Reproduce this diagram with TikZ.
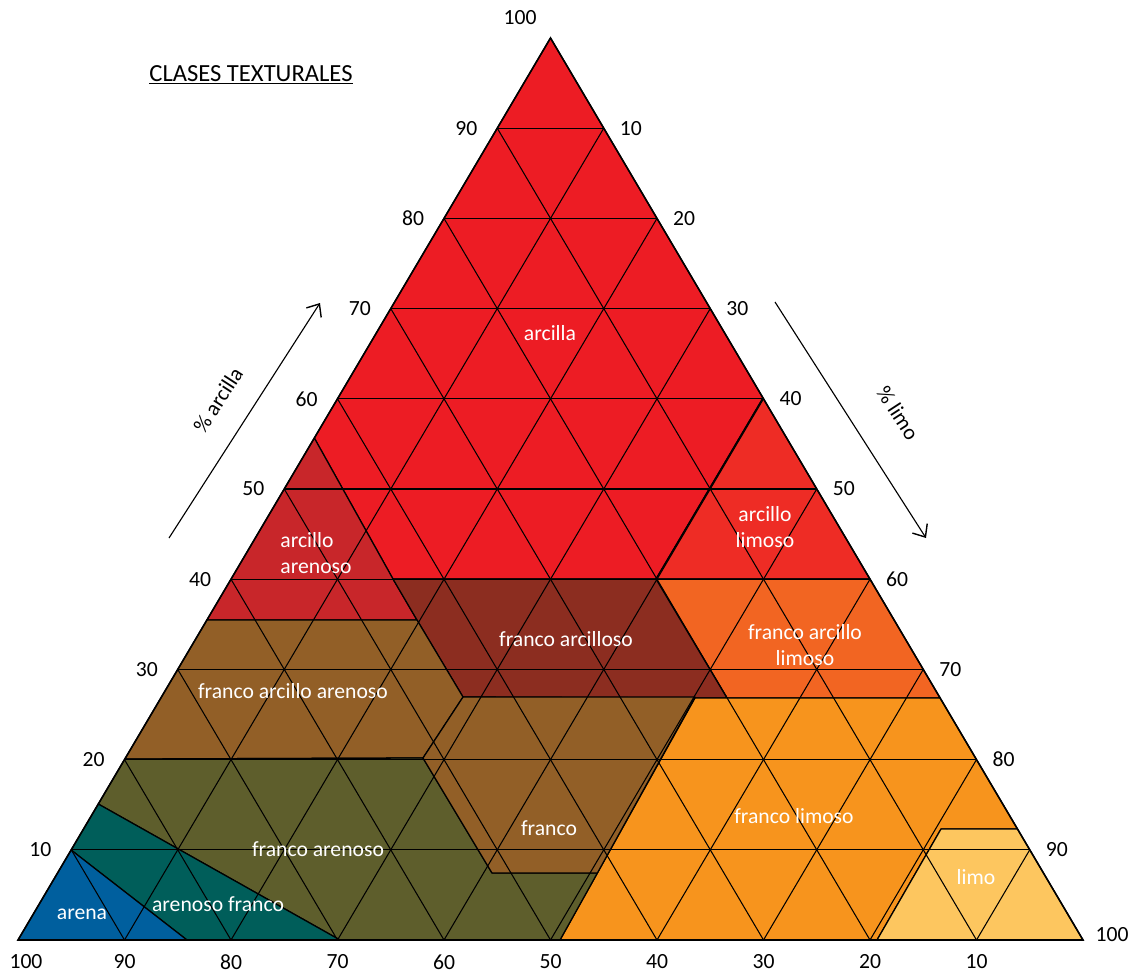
\documentclass[tikz,border=0pt]{standalone}
\usepackage{fontspec}
\setmainfont{Carlito}
\usetikzlibrary{arrows.meta}
\definecolor{clayred}{HTML}{ED1C24}
\definecolor{siltyclay}{HTML}{EE2C25}
\definecolor{sandyclay}{HTML}{C8262A}
\definecolor{clayloam}{HTML}{8C2D20}
\definecolor{siltyclayloam}{HTML}{F26522}
\definecolor{loambrown}{HTML}{925F27}
\definecolor{sandyloam}{HTML}{5E5E2C}
\definecolor{loamysand}{HTML}{005E5A}
\definecolor{sandblue}{HTML}{005F9E}
\definecolor{siltloam}{HTML}{F7941D}
\definecolor{siltyellow}{HTML}{FDC65F}

\begin{document}
\begin{tikzpicture}[x=0.25mm, y=-0.25mm,
    every node/.style={font=\fontsize{15.4}{19}\selectfont},
    zone/.style={draw=black, line width=0.9pt, line join=round},
    grid/.style={black, line width=0.75pt},
    zonelabel/.style={text=white, align=center},
    axisarrow/.style={line width=0.8pt, -{Straight Barb[length=2.6mm, width=4.4mm, line width=1pt]}}]
  \useasboundingbox (0,0) rectangle (1137,974);

  % corners of the triangle
  \coordinate (sand) at (18,940);
  \coordinate (silt) at (1083,940);
  \coordinate (clay) at (550.5,38);

  % texture classes
  \filldraw[zone, fill=clayred] (clay) -- (763,398) -- (656,579) -- (393,579) -- (314.3,438) -- cycle;
  \filldraw[zone, fill=siltyclay] (763,398) -- (870,579) -- (656,579) -- cycle;
  \filldraw[zone, fill=sandyclay] (314.3,438) -- (393,579) -- (417,620) -- (206.9,620) -- cycle;
  \filldraw[zone, fill=siltyclayloam] (656,579) -- (870,579) -- (940.1,698) -- (727,698) -- cycle;
  \filldraw[zone, fill=clayloam] (393,579) -- (656,579) -- (727,698) -- (463,697) -- (417,620) -- cycle;
  \filldraw[zone, fill=loambrown] (206.9,620) -- (417,620) -- (463,697) -- (423,758) -- (124.8,759) -- cycle;
  \filldraw[zone, fill=siltloam] (695,698) -- (940.1,698) -- (1017.5,829) -- (941,829) -- (877,940) -- (560,940) -- cycle;
  \filldraw[zone, fill=siltyellow] (941,829) -- (1017.5,829) -- (silt) -- (877,940) -- cycle;
  \filldraw[zone, fill=sandyloam] (124.8,759) -- (423,758) -- (492,873) -- (597.4,873) -- (560,940) -- (340,940) -- (98.3,804) -- cycle;
  \filldraw[zone, fill=loambrown] (463,697) -- (695,697) -- (597.4,873) -- (492,873) -- (423,758) -- cycle;
  \filldraw[zone, fill=loamysand] (98.3,804) -- (340,940) -- (187,940) -- (71.1,850) -- cycle;
  \filldraw[zone, fill=sandblue] (71.1,850) -- (187,940) -- (sand) -- cycle;

  % 10% grid
  \foreach \k in {1,...,9} {
    \draw[grid] ({18+\k*53.25},{940-\k*90.2}) -- ({1083-\k*53.25},{940-\k*90.2});
    \draw[grid] ({18+\k*106.5},940) -- ({550.5+\k*53.25},{38+\k*90.2});
    \draw[grid] ({18+\k*106.5},940) -- ({18+\k*53.25},{940-\k*90.2});
  }
  \draw[line width=1.1pt, line join=miter] (sand) -- (silt) -- (clay) -- cycle;

  % class names
  \node[zonelabel] (arcilla) at (550,333) {arcilla};
  \node[zonelabel, align=left] (arcare) at (316,553) {arcillo\\arenoso};
  \node[zonelabel] (arclim) at (765,527) {arcillo\\limoso};
  \node[zonelabel] (farc) at (566,639) {franco arcilloso};
  \node[zonelabel] (farclim) at (805,645) {franco arcillo\\limoso};
  \node[zonelabel] (farcare) at (293,691) {franco arcillo arenoso};
  \node[zonelabel] (franco) at (549,828) {franco};
  \node[zonelabel] (flim) at (794,816) {franco limoso};
  \node[zonelabel] (fare) at (318,849) {franco arenoso};
  \node[zonelabel] (aref) at (218,904) {arenoso franco};
  \node[zonelabel] (arena) at (82,914) {arena};
  \node[zonelabel] (limo) at (976,877) {limo};

  % scale values
  \foreach \k in {1,...,9} {
    \node (cl\k) at ({18+\k*53.25-31},{940-\k*90.2}) {\k0};
    \node (si\k) at ({550.5+\k*53.25+27},{38+\k*90.2}) {\k0};
  }
  \foreach \k/\v in {1/90,2/80,3/70,4/60,5/50,6/40,7/30,8/20,9/10}
    \node (sa\k) at ({18+\k*106.5},962) {\v};
  \node (cl10) at (520,18) {100};
  \node (si10) at (1112,935) {100};
  \node (sa0) at (26,962) {100};

  % axis arrows
  \coordinate (clayfrom) at (169,538);
  \coordinate (clayto) at (320,303);
  \draw[axisarrow] (clayfrom) -- (clayto);
  \node[rotate=57] (claytext) at (218,400) {\% arcilla};
  \coordinate (siltfrom) at (775,302);
  \coordinate (siltto) at (926,538);
  \draw[axisarrow] (siltfrom) -- (siltto);
  \node[rotate=-57] (silttext) at (898,413) {\% limo};

  \node[font=\fontsize{17.5}{21}\selectfont] (title) at (251,75) {\underline{CLASES TEXTURALES}};
\end{tikzpicture}
\end{document}
